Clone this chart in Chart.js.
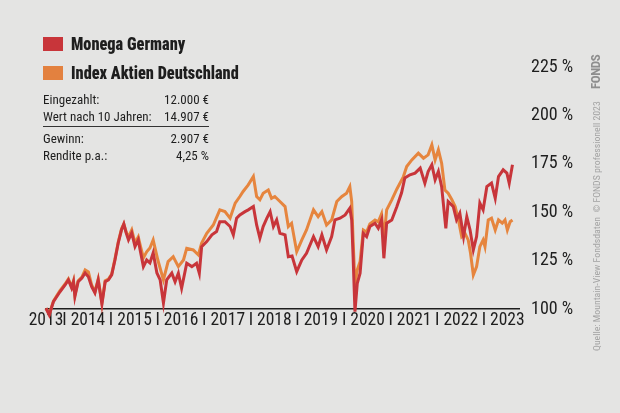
<!DOCTYPE html>
<html>
<head>
<meta charset="utf-8">
<script src="https://cdn.jsdelivr.net/npm/chart.js"></script>
<style>
  body { margin: 0; background: #e4e4e3; }
  #wrap { position: relative; width: 620px; height: 413px; background: #e4e4e3; overflow: hidden;
          font-family: "Roboto Condensed", "DejaVu Sans Condensed", sans-serif; color: #1e1e1e; }
  canvas { position: absolute; left: 0; top: 0; }
  .lg { position: absolute; left: 43px; font-weight: bold; font-size: 18.5px; line-height: 18px; white-space: nowrap; }
  .lg span { display: inline-block; width: 20px; height: 14px; margin-right: 8px; vertical-align: -1px; }
  .lg b { display: inline-block; transform: scaleX(0.88); transform-origin: left center; }
  .info { position: absolute; left: 43px; width: 166px; font-size: 13px; line-height: 17px; }
  .info div { display: flex; justify-content: space-between; }
  .rot { position: absolute; transform-origin: left top; transform: rotate(-90deg); white-space: nowrap; }
</style>
</head>
<body>
<div id="wrap">
  <canvas id="chart" width="620" height="413"></canvas>
  <div class="lg" style="top:35px"><span style="background:#c8353a"></span><b>Monega Germany</b></div>
  <div class="lg" style="top:64px"><span style="background:#e3813f"></span><b>Index Aktien Deutschland</b></div>
  <div class="info" style="top:91px">
    <div><span>Eingezahlt:</span><span>12.000 €</span></div>
    <div><span>Wert nach 10 Jahren:</span><span>14.907 €</span></div>
  </div>
  <div style="position:absolute;left:43px;top:126px;width:166px;height:1px;background:#333"></div>
  <div class="info" style="top:130px">
    <div><span>Gewinn:</span><span>2.907 €</span></div>
    <div><span>Rendite p.a.:</span><span>4,25 %</span></div>
  </div>
  <div class="rot" style="left:591px;top:351px;font-size:9.8px;line-height:11px;color:#a3a3a3">Quelle: Mountain-View Fondsdaten &nbsp;© FONDS professionell 2023</div>
  <div class="rot" style="left:589px;top:89px;font-size:13px;line-height:13px;font-weight:bold;letter-spacing:-0.4px;color:#8e8e8e">FONDS</div>
</div>
<script>
// x values are years since the start of 2013
const tickYears = [2013, 2014, 2015, 2016, 2017, 2018, 2019, 2020, 2021, 2022, 2023];
const tickLabels = ['2013', 'I 2014', 'I 2015', 'I 2016', 'I 2017', 'I 2018', 'I 2019', 'I 2020', 'I 2021', 'I 2022', 'I 2023'];
const yTicks = [100, 125, 150, 175, 200, 225];

const monegaT = [0, 0.07, 0.16, 0.24, 0.30, 0.41, 0.48, 0.55, 0.59, 0.62, 0.69, 0.77, 0.84, 0.91, 0.98, 1.05, 1.12, 1.20, 1.27, 1.34,
  1.41, 1.48, 1.55, 1.62, 1.67, 1.72, 1.77, 1.84, 1.91, 1.98, 2.02, 2.09, 2.16, 2.23, 2.30, 2.38, 2.45, 2.52, 2.59, 2.70,
  2.77, 2.84, 2.91, 3.02, 3.13, 3.23, 3.29, 3.34, 3.45, 3.56, 3.66, 3.73, 3.84, 3.95, 4.02, 4.09, 4.16, 4.27, 4.34, 4.45,
  4.52, 4.59, 4.66, 4.74, 4.81, 4.88, 4.95, 5.02, 5.13, 5.20, 5.28, 5.38, 5.49, 5.59, 5.74, 5.84, 5.92, 6.02, 6.13, 6.20,
  6.31, 6.42, 6.52, 6.56, 6.59, 6.63, 6.68, 6.74, 6.81, 6.88, 6.95, 7.06, 7.13, 7.20, 7.25, 7.31, 7.42, 7.53, 7.63, 7.70,
  7.81, 7.92, 8.03, 8.13, 8.20, 8.28, 8.35, 8.42, 8.49, 8.58, 8.63, 8.74, 8.81, 8.88, 8.96, 9.03, 9.10, 9.17, 9.24, 9.31,
  9.38, 9.46, 9.56, 9.64, 9.71, 9.81, 9.89, 9.94, 10.01];
const monegaV = [100.4, 96.9, 103.8, 106.7, 108.9, 112.4, 115.0, 110.9, 114.1, 106.4, 114.1, 116.0, 118.6, 116.7, 111.5, 108.3, 115.0, 102.6, 114.1, 115.0,
  117.6, 125.3, 134.1, 140.8, 143.9, 139.3, 135.7, 139.3, 132.2, 135.7, 130.5, 121.9, 125.3, 123.8, 129.0, 118.6, 115.0, 103.1, 115.0, 118.5,
  114.1, 118.5, 110.7, 123.6, 121.9, 123.6, 118.5, 132.2, 134.8, 138.3, 140.0, 145.1, 145.1, 142.6, 138.3, 146.9, 148.6, 150.3, 151.2, 152.9,
  143.4, 136.6, 142.6, 146.9, 150.3, 142.6, 146.0, 139.1, 138.3, 127.0, 127.4, 119.3, 125.3, 128.8, 137.4, 132.2, 138.3, 130.5, 137.4, 146.0,
  146.9, 148.6, 152.1, 146.0, 127.0, 98.6, 113.3, 118.5, 139.1, 137.4, 142.6, 144.3, 141.7, 146.0, 126.2, 144.3, 146.0, 152.9, 160.0, 167.7,
  169.3, 170.2, 172.8, 165.0, 171.0, 174.5, 166.7, 171.0, 163.2, 141.7, 155.5, 152.9, 146.0, 149.5, 137.4, 147.7, 140.8, 130.5, 137.4, 154.7,
  151.2, 163.2, 165.0, 157.2, 168.4, 171.9, 170.2, 165.0, 174.5];

const indexT = [0, 0.07, 0.16, 0.24, 0.30, 0.41, 0.48, 0.55, 0.59, 0.62, 0.69, 0.77, 0.84, 0.91, 0.98, 1.05, 1.12, 1.20, 1.27, 1.34,
  1.41, 1.48, 1.55, 1.62, 1.67, 1.72, 1.77, 1.84, 1.91, 1.98, 2.02, 2.09, 2.16, 2.23, 2.30, 2.40, 2.52, 2.62, 2.73, 2.84,
  2.95, 3.02, 3.16, 3.27, 3.34, 3.45, 3.59, 3.73, 3.84, 3.95, 4.06, 4.16, 4.23, 4.34, 4.45, 4.52, 4.59, 4.66, 4.77, 4.84,
  4.91, 5.02, 5.13, 5.20, 5.27, 5.38, 5.49, 5.59, 5.74, 5.84, 5.92, 6.02, 6.13, 6.24, 6.35, 6.45, 6.52, 6.56, 6.59, 6.63,
  6.68, 6.74, 6.81, 6.88, 6.95, 7.06, 7.13, 7.20, 7.25, 7.31, 7.42, 7.53, 7.67, 7.74, 7.85, 7.99, 8.10, 8.20, 8.28, 8.35,
  8.42, 8.49, 8.56, 8.63, 8.71, 8.78, 8.85, 8.92, 8.99, 9.06, 9.11, 9.17, 9.24, 9.31, 9.38, 9.42, 9.49, 9.56, 9.64, 9.71,
  9.79, 9.85, 9.90, 9.96, 10.01];
const indexV = [100.4, 97.4, 104.1, 107.2, 109.5, 112.9, 115.5, 111.4, 114.6, 107.2, 114.6, 116.5, 120.2, 119.1, 112.4, 108.8, 115.5, 103.1, 114.6, 115.5,
  118.1, 125.9, 134.6, 141.4, 143.9, 139.8, 137.2, 140.8, 134.1, 137.2, 133.1, 126.4, 129.5, 131.5, 135.7, 125.3, 115.0, 124.5, 127.0, 121.9,
  125.3, 131.4, 130.5, 127.9, 134.0, 139.1, 143.4, 151.2, 150.3, 146.9, 154.7, 158.1, 160.7, 164.1, 168.4, 158.1, 156.4, 159.8, 161.5, 157.2,
  158.1, 155.5, 152.9, 142.6, 144.3, 129.6, 135.7, 140.8, 151.2, 147.7, 150.3, 143.4, 146.0, 155.5, 158.1, 159.8, 163.2, 155.5, 135.7, 112.4,
  120.2, 124.5, 140.8, 139.8, 143.9, 146.0, 145.0, 149.1, 135.7, 151.2, 156.4, 162.0, 168.4, 173.6, 177.0, 180.5, 177.9, 179.6, 184.8, 177.0,
  182.2, 175.3, 161.5, 159.8, 156.4, 152.9, 146.0, 137.4, 139.1, 135.7, 128.8, 117.6, 121.9, 132.2, 135.7, 132.2, 146.0, 146.9, 140.8, 146.0,
  144.3, 146.0, 140.8, 145.1, 146.0];

const pts = (t, v) => t.map((x, i) => ({ x: x, y: v[i] }));
const font = '"Roboto Condensed", "DejaVu Sans Condensed", sans-serif';

new Chart(document.getElementById('chart'), {
  type: 'line',
  data: {
    datasets: [
      { label: 'Monega Germany', data: pts(monegaT, monegaV), borderColor: '#c8353a', borderWidth: 3, pointRadius: 0, tension: 0, clip: false },
      { label: 'Index Aktien Deutschland', data: pts(indexT, indexV), borderColor: '#e6853e', borderWidth: 3, pointRadius: 0, tension: 0, clip: false }
    ]
  },
  options: {
    responsive: false,
    devicePixelRatio: 1,
    animation: false,
    layout: { padding: { left: 46, top: 67, right: 0, bottom: 0 } },
    plugins: { legend: { display: false }, tooltip: { enabled: false } },
    scales: {
      x: {
        type: 'linear', min: 0, max: 10.15,
        grid: { display: false, drawTicks: false },
        border: { display: true, color: '#1e1e1e', width: 1.5 },
        afterBuildTicks: s => { s.ticks = tickYears.map(y => ({ value: y === 2013 ? 0 : y - 2013 - 0.19 })); },
        afterFit: s => { s.height = 104; },
        ticks: {
          autoSkip: false, maxRotation: 0, padding: 1, color: '#1e1e1e',
          font: { family: font, size: 17.5 },
          callback: (v, i) => tickLabels[i]
        }
      },
      y: {
        position: 'right', min: 100, max: 225,
        grid: { display: false, drawTicks: false },
        border: { display: false },
        afterBuildTicks: s => { s.ticks = yTicks.map(v => ({ value: v })); },
        afterFit: s => { s.width = 101; },
        ticks: {
          padding: 12, color: '#1e1e1e',
          font: { family: font, size: 18 },
          callback: v => v + ' %'
        }
      }
    }
  }
});
</script>
</body>
</html>
